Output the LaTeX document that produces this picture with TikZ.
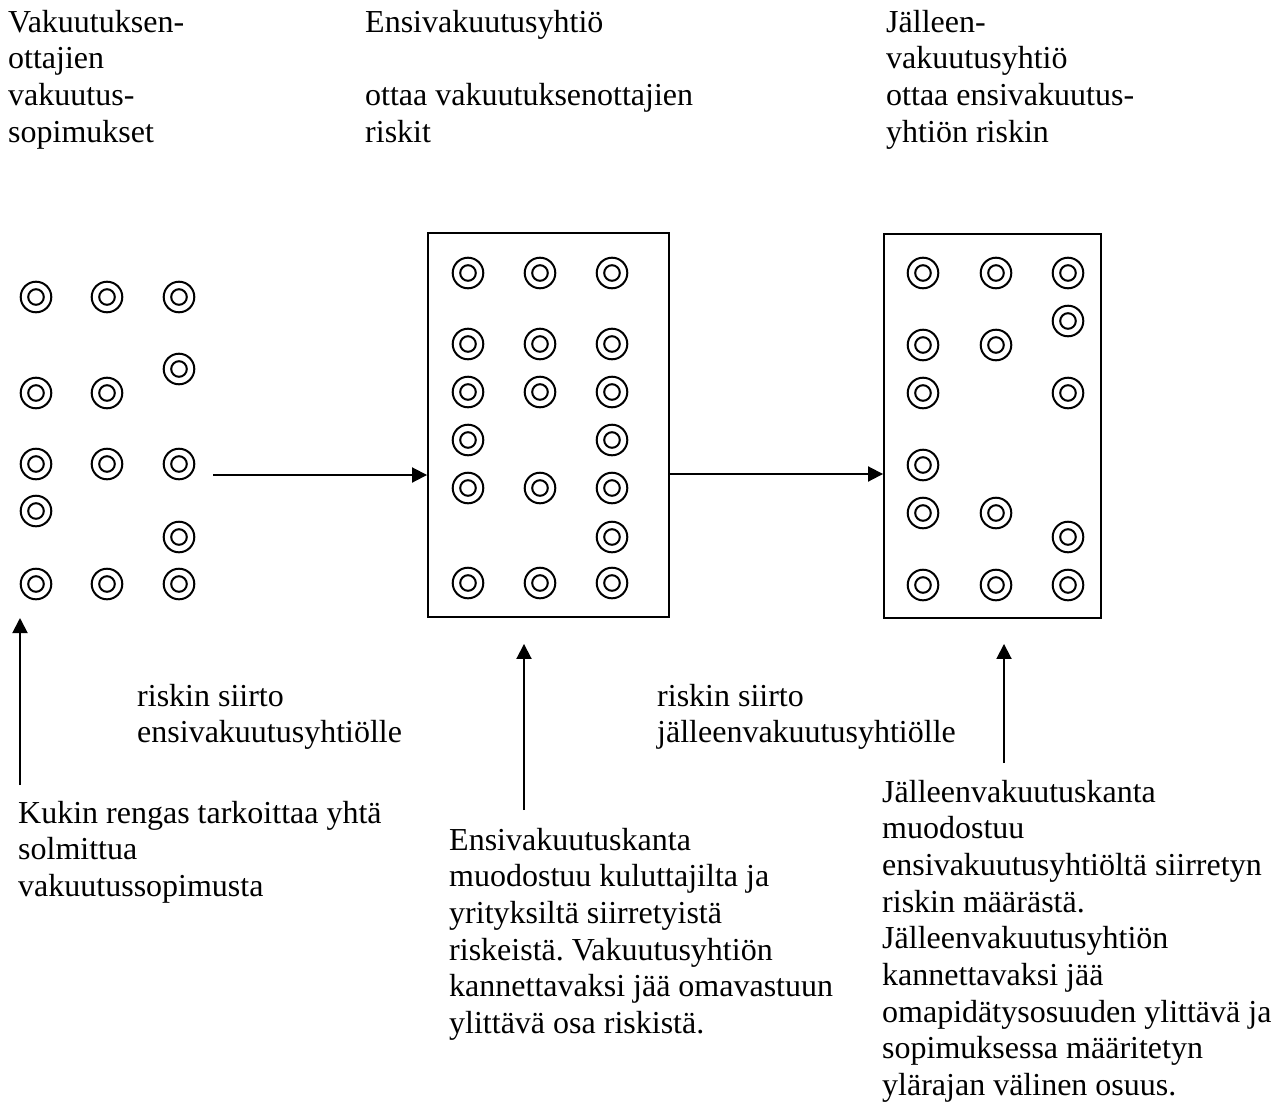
\documentclass[tikz,border=0pt]{standalone}
\usepackage{fontspec}
\setmainfont{Liberation Serif}
\usetikzlibrary{arrows.meta}
\frenchspacing

\begin{document}
\begin{tikzpicture}[x=1pt,y=-1pt,
  txt/.style={anchor=base west, inner sep=0pt, font=\fontsize{32}{36.7}\selectfont},
  ring/.style={line width=2pt},
  stock/.style={draw, rectangle, line width=1.9pt, inner sep=0pt, minimum height=384pt},
  flow/.style={line width=1.9pt, -{Triangle[length=15pt,width=15pt]}},
]
\useasboundingbox (0,0) rectangle (1286,1103);

% headings
\node[txt] (hpool) at (8,32) {\begin{tabular}[t]{@{}l@{}}Vakuutuksen-\\ottajien\\vakuutus-\\sopimukset\end{tabular}};
\node[txt] (hensi) at (365,32) {\begin{tabular}[t]{@{}l@{}}Ensivakuutusyhtiö\\ \\ottaa vakuutuksenottajien\\riskit\end{tabular}};
\node[txt] (hjall) at (886,32) {\begin{tabular}[t]{@{}l@{}}Jälleen-\\vakuutusyhtiö\\ottaa ensivakuutus-\\yhtiön riskin\end{tabular}};

% the two portfolios
\node[stock, minimum width=241pt] (ensi) at (548.5,425) {};
\node[stock, minimum width=217pt] (jall) at (992.5,426) {};

% one ring per insurance contract
\foreach \x/\y in {36/297,107/297,179/297, 179/369, 36/393,107/393,
                   36/464,107/464,179/464, 36/511, 179/537, 36/584,107/584,179/584,
                   468/273,540/273,612/273, 468/344,540/344,612/344,
                   468/392,540/392,612/392, 468/440,612/440,
                   468/488,540/488,612/488, 612/537, 468/583,540/583,612/583,
                   923/273,996/273,1068/273, 1068/321, 923/345,996/345,
                   923/393,1068/393, 923/465, 923/513,996/513, 1068/537,
                   923/585,996/585,1068/585}
  \draw[ring] (\x,\y) circle[radius=15.3] (\x,\y) circle[radius=7.8];

% risk transfer arrows
\coordinate (pool) at (213,475);
\draw[flow] (pool) -- (pool -| ensi.west);
\coordinate (ensiout) at ([yshift=-49pt]ensi.east);
\draw[flow] (ensiout) -- (ensiout -| jall.west);

\node[txt] (s1) at (137,706) {\begin{tabular}[t]{@{}l@{}}riskin siirto\\ensivakuutusyhtiölle\end{tabular}};
\node[txt] (s2) at (657,706) {\begin{tabular}[t]{@{}l@{}}riskin siirto\\jälleenvakuutusyhtiölle\end{tabular}};

% explanations with pointers
\coordinate (p1) at (20,785);
\coordinate (q1) at (20,618);
\draw[flow] (p1) -- (q1);
\coordinate (p2) at (524,810);
\draw[flow] (p2) -- ([yshift=-26pt]p2 |- ensi.south);
\coordinate (p3) at (1004,763);
\draw[flow] (p3) -- ([yshift=-25pt]p3 |- jall.south);

\node[txt] (n1) at (18,823) {\begin{tabular}[t]{@{}l@{}}Kukin rengas tarkoittaa yhtä\\solmittua\\vakuutussopimusta\end{tabular}};
\node[txt] (n2) at (449,850) {\begin{tabular}[t]{@{}l@{}}Ensivakuutuskanta\\muodostuu kuluttajilta ja\\yrityksiltä siirretyistä\\riskeistä. Vakuutusyhtiön\\kannettavaksi jää omavastuun\\ylittävä osa riskistä.\end{tabular}};
\node[txt] (n3) at (882,802) {\begin{tabular}[t]{@{}l@{}}Jälleenvakuutuskanta\\muodostuu\\ensivakuutusyhtiöltä siirretyn\\riskin määrästä.\\Jälleenvakuutusyhtiön\\kannettavaksi jää\\omapidätysosuuden ylittävä ja\\sopimuksessa määritetyn\\ylärajan välinen osuus.\end{tabular}};
\end{tikzpicture}
\end{document}
